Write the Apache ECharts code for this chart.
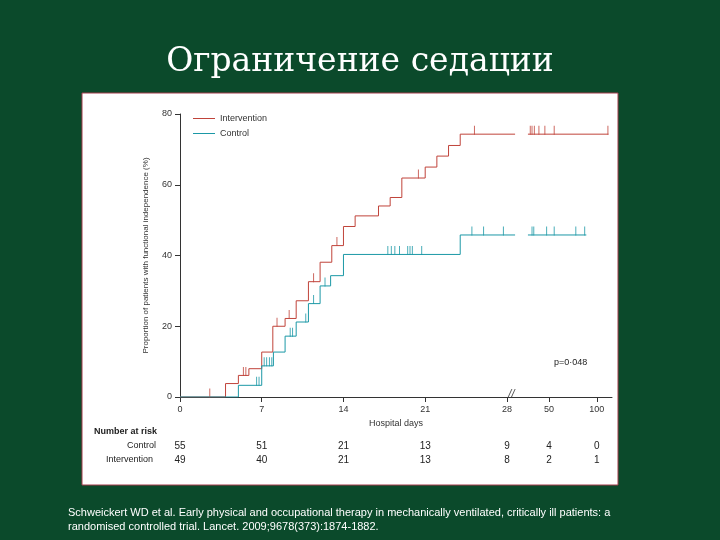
<!DOCTYPE html>
<html><head><meta charset="utf-8">
<script src="https://cdn.jsdelivr.net/npm/echarts@6/dist/echarts.min.js"></script>
<style>html,body{margin:0;padding:0;background:#0b4a2b;}#c{width:720px;height:540px;}</style>
</head><body><div id="c"></div>
<script>
// x positions in axis units (0-28 = days, then compressed break: 50 -> 31.6, 100 -> 35.7)
const tickPos = [0, 7, 14, 21, 28, 31.6, 35.7];
const tickLabels = ['0', '7', '14', '21', '28', '50', '100'];
const intTimes = [0, 3.9, 5.0, 5.9, 7.0, 7.95, 9.0, 9.95, 11.0, 12.0, 13.0, 14.0, 15.0, 17.0, 18.0, 19.0, 21.0, 22.0, 23.0, 24.0];
const intVals  = [0, 3.8, 6.1, 8.0, 12.7, 20.0, 22.2, 27.2, 32.6, 38.1, 42.8, 48.2, 51.2, 54.0, 56.4, 61.9, 65.0, 68.1, 71.1, 74.3];
const ctlTimes = [0, 5.0, 7.0, 8.0, 9.0, 9.95, 11.0, 12.0, 12.9, 14.0, 24.0];
const ctlVals  = [0, 3.3, 8.8, 12.7, 17.2, 21.2, 26.4, 31.4, 34.3, 40.3, 45.8];
const intCens = [2.55, 5.43, 5.64, 8.31, 9.35, 11.44, 13.44, 20.42, 25.22, 30.0, 30.15, 30.35, 30.74, 31.25, 32.05, 36.65];
const ctlCens = [6.56, 6.77, 7.21, 7.42, 7.66, 7.86, 9.44, 9.64, 10.77, 11.44, 12.42, 17.8, 18.1, 18.4, 18.8, 19.5, 19.7, 19.9, 20.7, 25.0, 26.0, 27.7, 30.15, 30.3, 31.4, 32.05, 33.9, 34.66];
const breakStart = 28.7, breakEnd = 29.8, intEnd = 36.7, ctlEnd = 34.8;
const riskControl = ['55', '51', '21', '13', '9', '4', '0'];
const riskIntervention = ['49', '40', '21', '13', '8', '2', '1'];

const RED = '#c0433a', TEAL = '#1b98a6';
function valAt(times, vals, t) { let v = vals[0]; for (let i = 0; i < times.length; i++) if (times[i] <= t) v = vals[i]; return v; }
function segs(times, vals, end) {
  const a = times.map((t, i) => [t, vals[i]]);
  a.push([breakStart, valAt(times, vals, breakStart)]);
  const b = [[breakEnd, valAt(times, vals, breakEnd)], [end, valAt(times, vals, end)]];
  return [a, b];
}
const [i1, i2] = segs(intTimes, intVals, intEnd);
const [c1, c2] = segs(ctlTimes, ctlVals, ctlEnd);
const F = 'Liberation Sans';
function lineS(name, data, color, showLegend) {
  return { name: showLegend ? name : undefined, type: 'line', step: 'end', data, symbol: 'none', silent: true,
    lineStyle: { color, width: 1 }, itemStyle: { color } };
}
function cens(times, vals, list, color) {
  return { type: 'scatter', data: list.map(t => [t, valAt(times, vals, t)]), symbol: 'rect', symbolSize: [1, 9],
    symbolOffset: [0, -4], itemStyle: { color }, silent: true };
}
const base = [
  { id: 'panel', type: 'rect', shape: { x: 82, y: 93, width: 536, height: 392 }, style: { fill: '#fff', stroke: '#a33a4a', lineWidth: 1 }, z: -10 },
  { id: 'title', type: 'text', left: 'center', top: 46, style: { text: 'Ограничение седации', font: '33px "DejaVu Serif"', fill: '#fff' } },
  { id: 'cap', type: 'text', left: 68, top: 506, style: { text: 'Schweickert WD et al. Early physical and occupational therapy in mechanically ventilated, critically ill patients: a\nrandomised controlled trial. Lancet. 2009;9678(373):1874-1882.', font: '11px "Liberation Sans"', fill: '#fff', lineHeight: 14 } },
  { id: 'nar', type: 'text', left: 94, top: 427, style: { text: 'Number at risk', font: 'bold 9px "Liberation Sans"', fill: '#222' } },
  { id: 'ctl', type: 'text', left: 127, top: 441, style: { text: 'Control', font: '9px "Liberation Sans"', fill: '#222' } },
  { id: 'int', type: 'text', left: 106, top: 455, style: { text: 'Intervention', font: '9px "Liberation Sans"', fill: '#222' } },
  { id: 'brk', type: 'text', left: 508, top: 389, style: { text: '//', font: 'italic 12px "Liberation Sans"', fill: '#555' } },
  { id: 'p', type: 'text', left: 554, top: 358, style: { text: 'p=0·048', font: '9px "Liberation Sans"', fill: '#222' } }
];
const chart = echarts.init(document.getElementById('c'));
chart.setOption({
  backgroundColor: '#0b4a2b',
  animation: false,
  graphic: base,
  legend: { left: 188, top: 109, orient: 'vertical', itemWidth: 22, itemHeight: 1, itemGap: 6, icon: 'rect',
    textStyle: { fontFamily: F, fontSize: 9, color: '#333' }, data: ['Intervention', 'Control'] },
  grid: { left: 180, top: 114, right: 108, bottom: 143 },
  xAxis: { type: 'value', min: 0, max: 37,
    axisLine: { lineStyle: { color: '#333' } },
    axisTick: { customValues: tickPos, lineStyle: { color: '#333' } },
    axisLabel: { customValues: tickPos, fontFamily: F, fontSize: 9, color: '#333',
      formatter: v => { const k = tickPos.findIndex(p => Math.abs(p - v) < 1e-6); return k >= 0 ? tickLabels[k] : ''; } },
    splitLine: { show: false }, name: 'Hospital days', nameLocation: 'middle', nameGap: 20,
    nameTextStyle: { fontFamily: F, fontSize: 9, color: '#333' } },
  yAxis: { type: 'value', min: 0, max: 80, interval: 20,
    axisLine: { show: true, lineStyle: { color: '#333' } }, axisTick: { show: true, lineStyle: { color: '#333' } },
    axisLabel: { fontFamily: F, fontSize: 9, color: '#333' }, splitLine: { show: false },
    name: 'Proportion of patients with functional independence (%)', nameLocation: 'middle', nameGap: 30,
    nameTextStyle: { fontFamily: F, fontSize: 8, color: '#333' } },
  series: [
    lineS('Intervention', i1, RED, true), lineS('x', i2, RED, false),
    lineS('Control', c1, TEAL, true), lineS('x', c2, TEAL, false),
    cens(intTimes, intVals, intCens, RED), cens(ctlTimes, ctlVals, ctlCens, TEAL)
  ]
});
const extra = [];
tickPos.forEach((p, k) => {
  const x = chart.convertToPixel({ gridIndex: 0 }, [p, 0])[0];
  extra.push({ id: 'rc' + k, type: 'text', x, y: 441, style: { text: riskControl[k], font: '10px "Liberation Sans"', fill: '#222', align: 'center' } });
  extra.push({ id: 'ri' + k, type: 'text', x, y: 455, style: { text: riskIntervention[k], font: '10px "Liberation Sans"', fill: '#222', align: 'center' } });
});
chart.setOption({ graphic: base.concat(extra) });
</script></body></html>
